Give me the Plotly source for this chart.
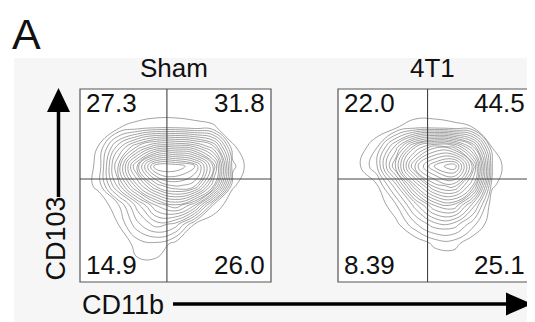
import plotly.graph_objects as go

# page is rendered with the browser's default 8px body margin
OFF = 8
W, H = 535 - OFF, 322 - OFF

# ---- data ----
panel_titles = ["Sham", "4T1"]
x_label = "CD11b"
y_label = "CD103"
panel_letter = "A"

grid_x = [0, 10, 20, 30, 40, 50, 60, 70, 80, 90, 100]
grid_y = [0, 10, 20, 30, 40, 50, 60, 70, 80, 90, 100]

# estimated density (contour level count); rows = grid_y, cols = grid_x
sham_density = [
    [0, 0, 0, 0, 0, 0, 0, 0, 0, 0, 0],
    [0, 0, 0, 0.8, 0.7, 0, 0, 0, 0, 0, 0],
    [0, 0, 0, 1.5, 1.9, 0.6, 0, 0, 0, 0, 0],
    [0, 0, 1.0, 4, 6, 5, 1.0, 0, 0, 0, 0],
    [0, 0, 2, 6, 10, 12, 9, 2, 0, 0, 0],
    [0, 1.5, 7, 13, 18, 20, 19, 12, 1.2, 0, 0],
    [0, 1.4, 9, 17, 24, 24, 22, 15, 2.5, 0, 0],
    [0, 1.1, 6, 10, 13, 13, 12, 9, 1.2, 0, 0],
    [0, 0, 0.9, 1.5, 2, 2, 1.6, 1.2, 0, 0, 0],
    [0, 0, 0, 0, 0, 0, 0, 0, 0, 0, 0],
    [0, 0, 0, 0, 0, 0, 0, 0, 0, 0, 0],
]
t41_density = [
    [0, 0, 0, 0, 0, 0, 0, 0, 0, 0, 0],
    [0, 0, 0, 0, 0, 0, 0, 0, 0, 0, 0],
    [0, 0, 0, 0, 0, 1.3, 1.5, 0, 0, 0, 0],
    [0, 0, 0, 0.6, 3, 5, 5, 2.5, 0, 0, 0],
    [0, 0, 0, 2, 6, 10, 11, 6, 0, 0, 0],
    [0, 0, 0.8, 5, 12, 17, 18, 13, 1.2, 0, 0],
    [0, 0.6, 3, 10, 18, 22, 24, 16, 2, 0, 0],
    [0, 0, 2, 7, 13, 16, 15, 10, 0.9, 0, 0],
    [0, 0, 0, 0.9, 1.8, 1.8, 1.4, 1.0, 0, 0, 0],
    [0, 0, 0, 0, 0, 0, 0, 0, 0, 0, 0],
    [0, 0, 0, 0, 0, 0, 0, 0, 0, 0, 0],
]
densities = [sham_density, t41_density]

# quadrant gate positions (axis units 0-100)
gate_x = [45.5, 46.4]
gate_y = [53.4, 53.4]

# quadrant percentages: [upper-left, upper-right, lower-left, lower-right]
quad_pct = [
    ["27.3", "31.8", "14.9", "26.0"],
    ["22.0", "44.5", "8.39", "25.1"],
]

# ---- layout helpers (arguments are page pixels) ----
def px(x):
    return (x - OFF) / W

def py(y):
    return 1 - (y - OFF) / H

box_x = [(80, 271), (338, 531)]
box_top, box_bot = 89, 282

FONT = "Liberation Sans, Arial, sans-serif"
LINE_COL = "#7a7a7a"

fig = go.Figure()
shapes = []
annotations = []

# gray panel background
shapes.append(dict(type="rect", xref="paper", yref="paper",
                   x0=px(14), x1=px(540), y0=py(330), y1=py(58),
                   fillcolor="#f6f6f6", line=dict(width=0), layer="below"))

for i in range(2):
    xa = "x" if i == 0 else "x2"
    ya = "y" if i == 0 else "y2"
    fig.add_trace(go.Contour(
        x=grid_x, y=grid_y, z=densities[i], xaxis=xa, yaxis=ya,
        contours=dict(start=1, end=23, size=1.1, coloring="lines"),
        line=dict(width=0.7, smoothing=1.3),
        colorscale=[[0, LINE_COL], [1, LINE_COL]],
        showscale=False, hoverinfo="skip"))

    xd = xa + " domain"
    yd = ya + " domain"
    shapes.append(dict(type="rect", xref=xd, yref=yd, x0=0, x1=1, y0=0, y1=1,
                       fillcolor="white", line=dict(width=0), layer="below"))
    shapes.append(dict(type="rect", xref=xd, yref=yd, x0=0, x1=1, y0=0, y1=1,
                       line=dict(color="#555555", width=1.2), layer="above"))
    shapes.append(dict(type="line", xref=xa, yref=yd, x0=gate_x[i], x1=gate_x[i], y0=0, y1=1,
                       line=dict(color="#444444", width=1.1), layer="above"))
    shapes.append(dict(type="line", xref=xd, yref=ya, x0=0, x1=1, y0=gate_y[i], y1=gate_y[i],
                       line=dict(color="#444444", width=1.1), layer="above"))

    bx0, bx1 = box_x[i]
    annotations.append(dict(text=panel_titles[i], xref="paper", yref="paper",
                            x=px((bx0 + bx1) / 2 - 2), y=py(67.5), xanchor="center", yanchor="middle",
                            showarrow=False, font=dict(family=FONT, size=26, color="#111")))
    pos = [(bx0 + 4, 103, "left"), (bx1 - 4, 103, "right"),
           (bx0 + 4, 265, "left"), (bx1 - 4, 265, "right")]
    for (xx, yy, anc), txt in zip(pos, quad_pct[i]):
        annotations.append(dict(text=txt, xref="paper", yref="paper",
                                x=px(xx), y=py(yy), xanchor=anc, yanchor="middle",
                                showarrow=False, font=dict(family=FONT, size=26, color="#111")))

annotations.append(dict(text=panel_letter, xref="paper", yref="paper", x=px(26), y=1,
                        xanchor="center", yanchor="top", showarrow=False,
                        font=dict(family=FONT, size=43, color="#111")))
annotations.append(dict(text=x_label, xref="paper", yref="paper", x=px(80), y=py(305),
                        xanchor="left", yanchor="middle", showarrow=False,
                        font=dict(family=FONT, size=27, color="#111")))
annotations.append(dict(text=y_label, xref="paper", yref="paper", x=px(55), y=py(238.5),
                        xanchor="center", yanchor="middle", showarrow=False, textangle=-90,
                        font=dict(family=FONT, size=27, color="#111")))

# arrows
shapes.append(dict(type="line", xref="paper", yref="paper", x0=px(58.5), x1=px(58.5),
                   y0=py(197), y1=py(110), line=dict(color="black", width=3.5)))
shapes.append(dict(type="path", xref="paper", yref="paper",
                   path=f"M {px(47)} {py(112)} L {px(70)} {py(112)} L {px(58.5)} {py(88)} Z",
                   fillcolor="black", line=dict(width=0)))
shapes.append(dict(type="line", xref="paper", yref="paper", x0=px(173), x1=px(508),
                   y0=py(304), y1=py(304), line=dict(color="black", width=3.5)))
shapes.append(dict(type="path", xref="paper", yref="paper",
                   path=f"M {px(506)} {py(292.5)} L {px(506)} {py(315.5)} L {px(532)} {py(304)} Z",
                   fillcolor="black", line=dict(width=0)))

ydom = [py(box_bot), py(box_top)]
axis_common = dict(range=[0, 100], visible=False, showgrid=False, zeroline=False, fixedrange=True)
fig.update_layout(
    width=W, height=H, margin=dict(l=0, r=0, t=0, b=0),
    paper_bgcolor="white", plot_bgcolor="white", showlegend=False,
    xaxis=dict(domain=[px(box_x[0][0]), px(box_x[0][1])], anchor="y", **axis_common),
    yaxis=dict(domain=ydom, anchor="x", **axis_common),
    xaxis2=dict(domain=[px(box_x[1][0]), px(box_x[1][1])], anchor="y2", **axis_common),
    yaxis2=dict(domain=ydom, anchor="x2", **axis_common),
    shapes=shapes, annotations=annotations,
)

fig.write_html("out.html")
